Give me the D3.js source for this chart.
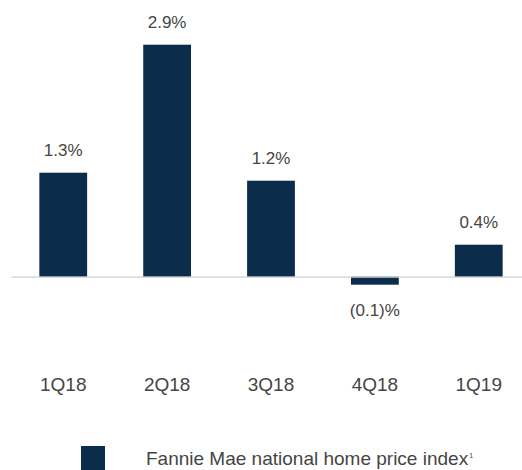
<!DOCTYPE html>
<html>
<head>
<meta charset="utf-8">
<script src="https://cdn.jsdelivr.net/npm/d3@7"></script>
<style>
  body { margin: 0; background: #fff; }
  text { font-family: Arial, "Liberation Sans", sans-serif; }
</style>
</head>
<body>
<svg width="522" height="470"></svg>
<script>
var quarters = ["1Q18", "2Q18", "3Q18", "4Q18", "1Q19"];
var hpiChange = [1.3, 2.9, 1.2, -0.1, 0.4];
var valueLabels = ["1.3%", "2.9%", "1.2%", "(0.1)%", "0.4%"];
var seriesName = "Fannie Mae national home price index";

var svg = d3.select("svg"),
    width = +svg.attr("width"),
    height = +svg.attr("height");

var barColor = "#0b2d4b",
    textColor = "#454545";

var x = d3.scaleBand()
    .domain(quarters)
    .range([11.3, 530.7])
    .paddingInner(0.54)
    .paddingOuter(0.27);

// 80px per 1%
var y = d3.scaleLinear()
    .domain([-0.1, 2.9])
    .range([284.7, 44.7]);

var data = quarters.map(function(q, i) {
    return { q: q, v: hpiChange[i], label: valueLabels[i] };
});

// bars
svg.append("g")
    .selectAll("rect")
    .data(data)
    .enter().append("rect")
    .attr("x", function(d) { return x(d.q); })
    .attr("width", x.bandwidth())
    .attr("y", function(d) { return y(Math.max(0, d.v)); })
    .attr("height", function(d) { return Math.abs(y(d.v) - y(0)); })
    .style("fill", barColor);

// zero line
svg.append("line")
    .attr("x1", 11.5)
    .attr("x2", width)
    .attr("y1", y(0) + 0.5)
    .attr("y2", y(0) + 0.5)
    .style("stroke", "#cfcfcf")
    .style("stroke-width", 1.2);

// value labels
svg.append("g")
    .selectAll("text")
    .data(data)
    .enter().append("text")
    .attr("x", function(d) { return x(d.q) + x.bandwidth() / 2; })
    .attr("y", function(d) { return d.v >= 0 ? y(d.v) - 17 : y(d.v) + 31; })
    .attr("text-anchor", "middle")
    .style("font-size", "17px")
    .style("fill", textColor)
    .text(function(d) { return d.label; });

// category axis (no line, no ticks)
var xAxis = svg.append("g")
    .attr("transform", "translate(0," + 377 + ")")
    .call(d3.axisBottom(x).tickSize(0).tickPadding(0));
xAxis.select(".domain").remove();
xAxis.selectAll("text")
    .attr("dy", "0.71em")
    .style("font-size", "19px")
    .style("font-family", "Arial, 'Liberation Sans', sans-serif")
    .style("fill", textColor);

// legend
var legend = svg.append("g").attr("transform", "translate(81,446)");
legend.append("rect")
    .attr("width", 24)
    .attr("height", 24)
    .style("fill", barColor);
var lt = legend.append("text")
    .attr("x", 65)
    .attr("y", 19)
    .style("font-size", "19px")
    .style("fill", textColor)
    .text(seriesName);
lt.append("tspan")
    .attr("dx", 1)
    .attr("dy", -7)
    .style("font-size", "7px")
    .text("1");
</script>
</body>
</html>
